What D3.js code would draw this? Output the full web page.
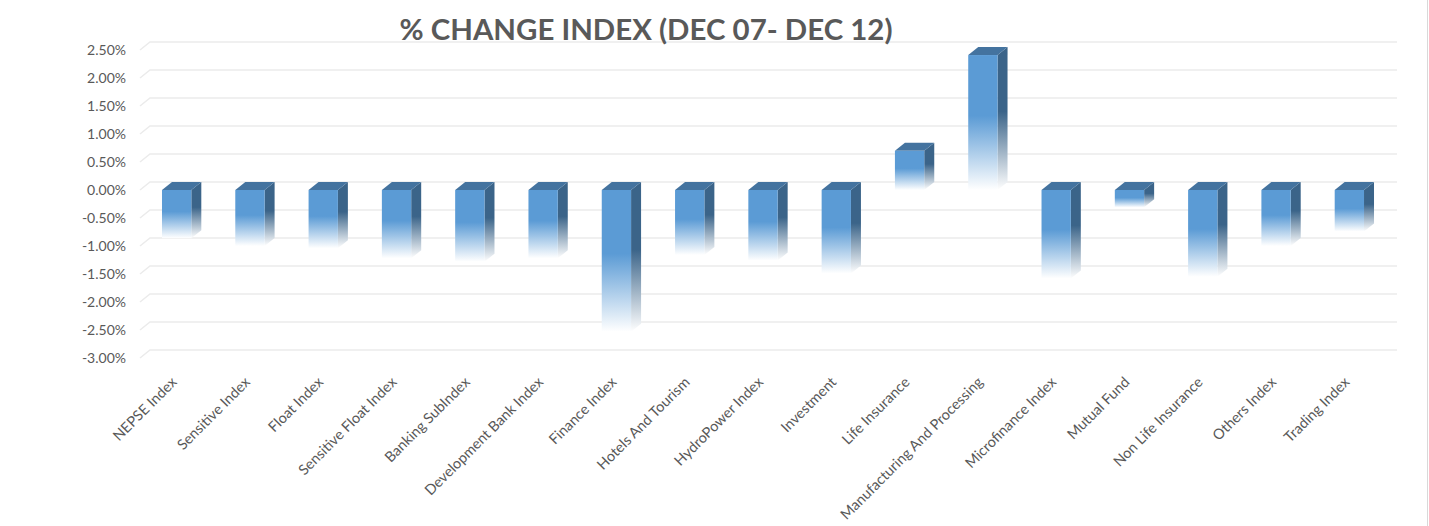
<!DOCTYPE html>
<html>
<head>
<meta charset="utf-8">
<script src="https://cdn.jsdelivr.net/npm/d3@7"></script>
<style>
  html, body { margin: 0; padding: 0; background: #fff; }
  svg { display: block; }
</style>
</head>
<body>
<svg id="chart" width="1429" height="526"></svg>
<script>
const categories = ["NEPSE Index", "Sensitive Index", "Float Index", "Sensitive Float Index",
  "Banking SubIndex", "Development Bank Index", "Finance Index", "Hotels And Tourism",
  "HydroPower Index", "Investment", "Life Insurance", "Manufacturing And Processing",
  "Microfinance Index", "Mutual Fund", "Non Life Insurance", "Others Index", "Trading Index"];
const changes = [-0.0086, -0.0100, -0.0104, -0.0122, -0.0128, -0.0122, -0.0253, -0.0116,
  -0.0126, -0.0149, 0.0070, 0.0241, -0.0158, -0.0031, -0.0155, -0.0100, -0.0074];
const yTicks = [0.025, 0.02, 0.015, 0.01, 0.005, 0, -0.005, -0.01, -0.015, -0.02, -0.025, -0.03];
const yTickLabels = ["2.50%", "2.00%", "1.50%", "1.00%", "0.50%", "0.00%", "-0.50%", "-1.00%",
  "-1.50%", "-2.00%", "-2.50%", "-3.00%"];
const title = "% CHANGE INDEX (DEC 07- DEC 12)";

const svg = d3.select("#chart");
const DX = 10, DY = 8;           // 3D depth offset
const textColor = "#595959";
const font = "Lato, 'Open Sans', sans-serif";

// back-wall scale
const yBack = d3.scaleLinear().domain([-0.03, 0.025]).range([350, 42]);
const yFront = v => yBack(v) + DY;
const x = d3.scaleBand().domain(categories).range([140, 1386]).paddingInner(0.6).paddingOuter(0.3);

// right border
svg.append("line").attr("x1", 1427.5).attr("x2", 1427.5).attr("y1", 0).attr("y2", 526)
  .attr("stroke", "#d9d9d9").attr("stroke-width", 1);

// gridlines (back wall + side wall diagonal)
const grid = svg.append("g");
yTicks.forEach(t => {
  const yb = yBack(t);
  grid.append("path")
    .attr("d", `M${140},${yb + DY}L${150},${yb}L${1397},${yb}`)
    .attr("fill", "none").attr("stroke", "#ebebeb").attr("stroke-width", 1.5);
});

// y labels
svg.append("g").selectAll("text").data(yTicks).join("text")
  .attr("x", 126).attr("y", d => yFront(d))
  .attr("dy", "0.35em")
  .attr("text-anchor", "end")
  .attr("font-family", font).attr("font-size", 14).attr("fill", textColor)
  .text((d, i) => yTickLabels[i]);

// gradients
const defs = svg.append("defs");
function grad(id, color) {
  const g = defs.append("linearGradient").attr("id", id)
    .attr("x1", 0).attr("y1", 0).attr("x2", 0).attr("y2", 1);
  g.append("stop").attr("offset", 0).attr("stop-color", color);
  g.append("stop").attr("offset", 0.45).attr("stop-color", color);
  g.append("stop").attr("offset", 1).attr("stop-color", "#ffffff");
}
grad("gFront", "#5b9bd5");
grad("gSide", "#3b6489");

// bars
const bars = svg.append("g");
categories.forEach((c, i) => {
  const v = changes[i];
  const x0 = x(c), w = x.bandwidth();
  const top = Math.min(yFront(v), yFront(0));
  const bot = Math.max(yFront(v), yFront(0));
  const g = bars.append("g");
  // side face
  g.append("path")
    .attr("d", `M${x0 + w},${top}L${x0 + w + DX},${top - DY}L${x0 + w + DX},${bot - DY}L${x0 + w},${bot}Z`)
    .attr("fill", "url(#gSide)");
  // top face
  g.append("path")
    .attr("d", `M${x0},${top}L${x0 + DX},${top - DY}L${x0 + w + DX},${top - DY}L${x0 + w},${top}Z`)
    .attr("fill", "#44739f");
  // front face
  g.append("rect")
    .attr("x", x0).attr("y", top).attr("width", w).attr("height", bot - top)
    .attr("fill", "url(#gFront)");
});

// x labels
svg.append("g").selectAll("text").data(categories).join("text")
  .attr("transform", d => `translate(${x(d) + x.bandwidth() / 2 + 1},${383}) rotate(-45)`)
  .attr("text-anchor", "end")
  .attr("font-family", font).attr("font-size", 14.5).attr("fill", textColor)
  .text(d => d);

// title
svg.append("text")
  .attr("x", 646).attr("y", 40)
  .attr("text-anchor", "middle")
  .attr("font-family", font).attr("font-weight", "bold").attr("font-size", 29)
  .attr("fill", textColor)
  .attr("textLength", 493).attr("lengthAdjust", "spacingAndGlyphs")
  .text(title);
</script>
</body>
</html>
